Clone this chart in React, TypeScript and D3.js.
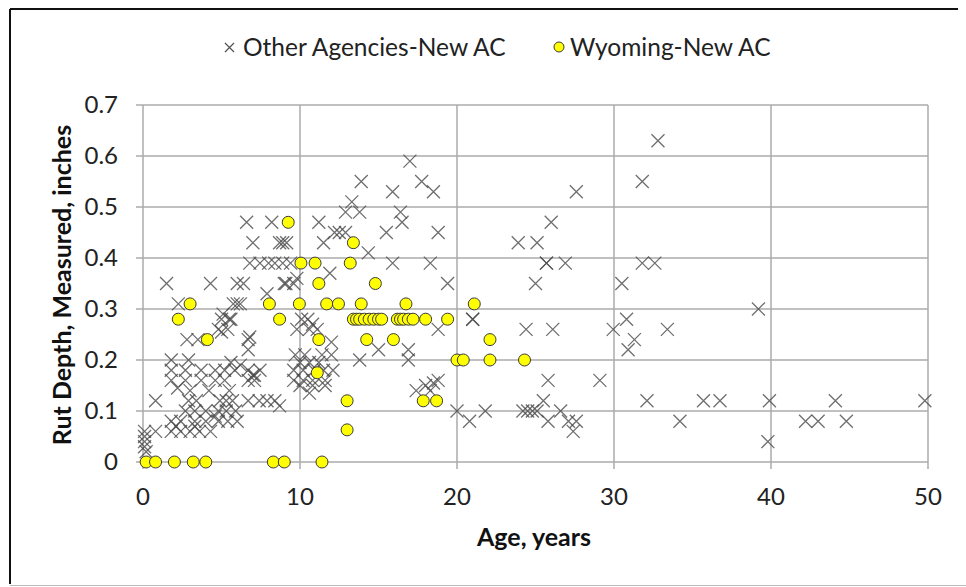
import React from "react";
import * as d3 from "d3";

// Other Agencies-New AC: age (years), rut depth (inches)
const otherAge = [
  0.1, 0.8, 0.1, 0.1, 0.2, 0.1, 0.8, 1.5, 2.25, 2.8, 3.5, 4.3, 5.0, 5.75, 6.2, 6.0, 6.4, 5.0, 5.5, 6.7, 6.7, 7.9,
  1.8, 2.9, 5.6, 6.2,
  1.8, 2.7, 3.7, 4.6, 5.2, 5.85, 6.7, 7.1,
  1.8, 2.7, 3.7, 4.6, 5.2, 6.7, 7.1,
  2.9, 3.4, 4.9, 5.3, 5.7, 6.7, 7.4, 7.9, 8.4,
  2.7, 3.3, 4.0, 4.8, 5.3, 5.9,
  1.8, 2.4, 3.3, 4.0, 4.8, 5.4, 6.0,
  1.8, 2.4, 3.0, 3.6, 4.3,
  2.2, 3.0, 4.2, 5.5, 2.1, 3.3, 4.6,
  6.6, 8.2, 7.0, 8.7, 9.15, 8.9,
  6.8, 7.45, 8.0, 8.4, 8.9, 9.4,
  9.8, 9.1, 9.6, 9.0, 6.0, 5.1, 5.6, 10.1, 10.5, 4.8, 5.4, 10.6, 11.1, 6.8, 9.8, 10.8, 12.0,
  7.45, 7.0, 8.7,
  9.7, 10.3, 11.4, 12.0,
  10.0, 10.6, 11.2,
  9.6, 10.2, 10.9, 11.5, 12.1,
  9.6, 10.2, 10.8, 11.6,
  10.0, 10.8, 11.6, 10.6,
  11.5, 11.9, 11.2,
  12.2, 12.5, 12.9, 13.3, 12.9, 13.8, 13.9, 14.35,
  15.0, 13.8, 16.9, 16.9,
  15.5, 15.9, 16.4, 16.5, 15.9,
  17.0, 17.75, 18.5, 18.8, 18.3,
  17.4, 18.0, 18.5, 18.3,
  19.4, 21.0, 21.0, 18.8, 18.8,
  20.0, 21.8, 20.8,
  24.2, 24.5, 24.8, 25.1,
  26.6, 25.8, 27.1, 27.6, 27.4,
  25.5, 25.8, 24.4, 26.1,
  25.0, 25.7, 25.7, 26.9,
  23.9, 25.1, 26.0, 27.6,
  29.1, 29.95, 30.5, 30.8, 31.3, 30.9, 33.4,
  31.8, 32.6, 31.8, 32.8, 39.2,
  32.1, 35.7, 36.75, 39.9, 44.1, 49.8,
  34.2, 42.2, 43.0, 44.8, 39.8,
];
const otherRut = [
  0.06, 0.06, 0.05, 0.03, 0.02, 0.04, 0.12, 0.35, 0.31, 0.24, 0.24, 0.35, 0.255, 0.31, 0.31, 0.35, 0.35, 0.28, 0.28, 0.24, 0.22, 0.33,
  0.2, 0.2, 0.195, 0.19,
  0.18, 0.18, 0.18, 0.18, 0.18, 0.18, 0.18, 0.17,
  0.16, 0.16, 0.16, 0.16, 0.16, 0.16, 0.16,
  0.12, 0.12, 0.12, 0.12, 0.12, 0.12, 0.12, 0.12, 0.12,
  0.1, 0.1, 0.1, 0.1, 0.1, 0.1,
  0.08, 0.08, 0.08, 0.08, 0.08, 0.08, 0.08,
  0.06, 0.06, 0.06, 0.06, 0.06,
  0.145, 0.14, 0.14, 0.14, 0.07, 0.07, 0.09,
  0.47, 0.47, 0.43, 0.43, 0.43, 0.43,
  0.39, 0.39, 0.39, 0.39, 0.39, 0.39,
  0.36, 0.35, 0.35, 0.35, 0.31, 0.29, 0.28, 0.28, 0.28, 0.26, 0.26, 0.26, 0.26, 0.245, 0.26, 0.27, 0.235,
  0.18, 0.17, 0.11,
  0.21, 0.21, 0.21, 0.21,
  0.195, 0.195, 0.195,
  0.18, 0.18, 0.18, 0.18, 0.18,
  0.16, 0.16, 0.16, 0.16,
  0.15, 0.15, 0.15, 0.135,
  0.43, 0.37, 0.47,
  0.45, 0.45, 0.45, 0.51, 0.49, 0.49, 0.55, 0.41,
  0.22, 0.2, 0.22, 0.2,
  0.45, 0.53, 0.49, 0.47, 0.39,
  0.59, 0.55, 0.53, 0.45, 0.39,
  0.14, 0.15, 0.155, 0.14,
  0.35, 0.28, 0.28, 0.26, 0.16,
  0.1, 0.1, 0.08,
  0.1, 0.1, 0.1, 0.1,
  0.1, 0.08, 0.08, 0.08, 0.06,
  0.12, 0.16, 0.26, 0.26,
  0.35, 0.39, 0.39, 0.39,
  0.43, 0.43, 0.47, 0.53,
  0.16, 0.26, 0.35, 0.28, 0.24, 0.22, 0.26,
  0.39, 0.39, 0.55, 0.63, 0.3,
  0.12, 0.12, 0.12, 0.12, 0.12, 0.12,
  0.08, 0.08, 0.08, 0.08, 0.04,
];

// Wyoming-New AC
const wyoAge = [
  0.2, 0.8, 2.0, 3.2, 4.0, 8.3, 9.0, 11.4,
  3.0, 2.25, 4.1, 8.05, 8.7, 9.25, 10.06, 10.96, 9.96, 11.2, 11.7, 12.45, 11.2, 11.1,
  13.4, 13.2, 14.8, 13.9, 16.75,
  13.4, 13.6, 13.8, 14.1, 14.4, 14.7, 15.0, 15.2,
  16.2, 16.4, 16.6, 16.9, 17.2, 18.0,
  14.25, 15.95, 13.0, 13.0, 17.85, 18.7,
  19.4, 21.1, 22.1, 20.0, 20.4, 22.1, 24.3,
];
const wyoRut = [
  0, 0, 0, 0, 0, 0, 0, 0,
  0.31, 0.28, 0.24, 0.31, 0.28, 0.47, 0.39, 0.39, 0.31, 0.35, 0.31, 0.31, 0.24, 0.175,
  0.43, 0.39, 0.35, 0.31, 0.31,
  0.28, 0.28, 0.28, 0.28, 0.28, 0.28, 0.28, 0.28,
  0.28, 0.28, 0.28, 0.28, 0.28, 0.28,
  0.24, 0.24, 0.12, 0.063, 0.12, 0.12,
  0.28, 0.31, 0.24, 0.2, 0.2, 0.2, 0.2,
];

const xTicks = [0, 10, 20, 30, 40, 50];
const yTicks = [0, 0.1, 0.2, 0.3, 0.4, 0.5, 0.6, 0.7];
const seriesNames = ["Other Agencies-New AC", "Wyoming-New AC"];

const W = 966;
const H = 587;
const FONT = "Lato, 'Open Sans', sans-serif";

export default function App() {
  const x = d3.scaleLinear().domain([0, 50]).range([143, 928]);
  const y = d3.scaleLinear().domain([0, 0.7]).range([462, 105]);
  const grid = "#ababab";
  const xs = 6.5;

  return (
    <svg width={W} height={H} style={{ position: "fixed", left: 0, top: 0, background: "#fff" }}>
      <rect x={0} y={0} width={W} height={H} fill="#fff" />
      {/* frame */}
      <line x1={10} y1={9} x2={10} y2={584} stroke="#111" strokeWidth={2} />
      <line x1={10} y1={9} x2={958} y2={9} stroke="#111" strokeWidth={2} />
      <line x1={10} y1={585.5} x2={966} y2={585.5} stroke="#bbb" strokeWidth={1} />

      {/* gridlines */}
      {yTicks.map((t) => (
        <line key={"gy" + t} x1={x(0) - 7} x2={x(50)} y1={y(t)} y2={y(t)} stroke={grid} strokeWidth={1.5} />
      ))}
      {xTicks.map((t) => (
        <line key={"gx" + t} x1={x(t)} x2={x(t)} y1={y(0.7)} y2={y(0) + 7} stroke={grid} strokeWidth={1.5} />
      ))}

      {/* tick labels */}
      {yTicks.map((t) => (
        <text key={"ty" + t} x={118} y={y(t)} dy="0.35em" textAnchor="end" fontFamily={FONT} fontSize={24} fill="#222">
          {d3.format(t === 0 ? "d" : ".1f")(t)}
        </text>
      ))}
      {xTicks.map((t) => (
        <text key={"tx" + t} x={x(t)} y={497} dy="0.35em" textAnchor="middle" fontFamily={FONT} fontSize={24} fill="#222">
          {t}
        </text>
      ))}

      {/* axis titles */}
      <text x={534} y={537} dy="0.35em" textAnchor="middle" fontFamily={FONT} fontWeight="bold" fontSize={25} fill="#111">
        Age, years
      </text>
      <text
        transform={`translate(62,285) rotate(-90)`}
        dy="0.35em"
        textAnchor="middle"
        fontFamily={FONT}
        fontWeight="bold"
        fontSize={25}
        fill="#111"
      >
        Rut Depth, Measured, inches
      </text>

      {/* Other agencies markers */}
      <g stroke="#4a4a4a" strokeWidth={1.3} strokeOpacity={0.8} fill="none">
        {otherAge.map((a, i) => {
          const cx = x(a);
          const cy = y(otherRut[i]);
          return (
            <path key={"o" + i} d={`M${cx - xs},${cy - xs}L${cx + xs},${cy + xs}M${cx - xs},${cy + xs}L${cx + xs},${cy - xs}`} />
          );
        })}
      </g>

      {/* Wyoming markers */}
      <g fill="#ffff00" stroke="#3a3a3a" strokeWidth={1}>
        {wyoAge.map((a, i) => (
          <circle key={"w" + i} cx={x(a)} cy={y(wyoRut[i])} r={6} />
        ))}
      </g>

      {/* legend */}
      <path d="M225,43L234,52M225,52L234,43" stroke="#555" strokeWidth={1.3} />
      <text x={243} y={47} dy="0.35em" fontFamily={FONT} fontSize={24.5} fill="#222">
        {seriesNames[0]}
      </text>
      <circle cx={559} cy={47} r={5} fill="#ffff00" stroke="#3a3a3a" strokeWidth={1} />
      <text x={570} y={47} dy="0.35em" fontFamily={FONT} fontSize={24.5} fill="#222">
        {seriesNames[1]}
      </text>
    </svg>
  );
}
